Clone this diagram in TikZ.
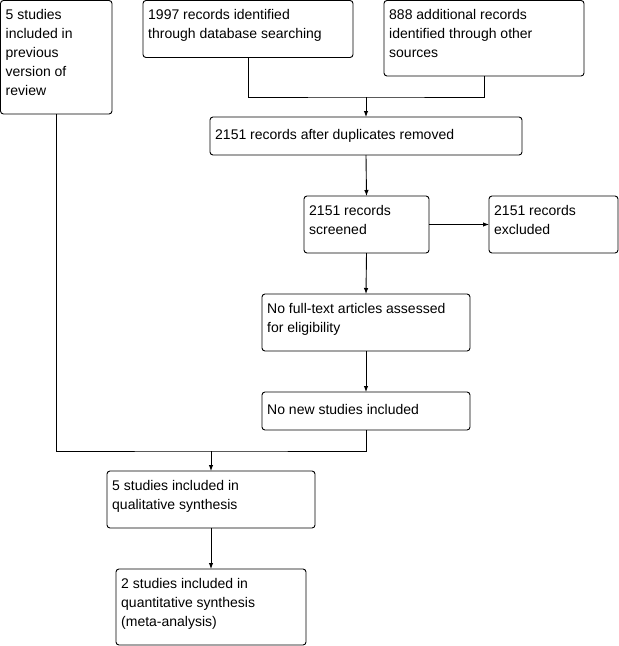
\documentclass[tikz,border=0pt]{standalone}
\usepackage{fontspec}
\setmainfont{Liberation Sans}
\usetikzlibrary{arrows.meta,calc}
\begin{document}
\begin{tikzpicture}[x=1pt,y=-1pt,
  box/.style={draw,line width=0.9pt,rounded corners=3pt,anchor=north west,inner sep=0pt,outer sep=0pt},
  txt/.style={anchor=north west,inner sep=0pt,align=left,font=\fontsize{14}{19}\selectfont,execute at begin node=\strut},
  conn/.style={line width=0.9pt},
  arr/.style={line width=0.9pt,-{Latex[length=6pt,width=4.5pt]}}]
\useasboundingbox (0,0) rectangle (619,646);
% boxes
\node[box,minimum width=111.5pt,minimum height=113.5pt] (b1) at (0.5,0.5) {};
\node[box,minimum width=210pt,minimum height=57pt] (b2) at (143,0.5) {};
\node[box,minimum width=200pt,minimum height=75.5pt] (b3) at (384,0.5) {};
\node[box,minimum width=312pt,minimum height=38pt] (b4) at (210,117) {};
\node[box,minimum width=125pt,minimum height=57pt] (b5) at (304,196) {};
\node[box,minimum width=129pt,minimum height=57pt] (b6) at (489,196) {};
\node[box,minimum width=208pt,minimum height=57pt] (b7) at (262,294) {};
\node[box,minimum width=208pt,minimum height=38pt] (b8) at (262,392) {};
\node[box,minimum width=208pt,minimum height=57pt] (b9) at (107,471) {};
\node[box,minimum width=190pt,minimum height=76pt] (b10) at (116,569) {};
% texts
\node[txt] (t1) at ($(b1.north west)+(5,9)$) {5 studies\\included in\\previous\\version of\\review};
\node[txt] (t2) at ($(b2.north west)+(5,9)$) {1997 records identified\\through database searching};
\node[txt] (t3) at ($(b3.north west)+(5,9)$) {888 additional records\\identified through other\\sources};
\node[txt] (t4) at ($(b4.north west)+(5,9)$) {2151 records after duplicates removed};
\node[txt] (t5) at ($(b5.north west)+(5,9)$) {2151 records\\screened};
\node[txt] (t6) at ($(b6.north west)+(5,9)$) {2151 records\\excluded};
\node[txt] (t7) at ($(b7.north west)+(5,9)$) {No full-text articles assessed\\for eligibility};
\node[txt] (t8) at ($(b8.north west)+(5,9)$) {No new studies included};
\node[txt] (t9) at ($(b9.north west)+(5,9)$) {5 studies included in\\qualitative synthesis};
\node[txt] (t10) at ($(b10.north west)+(5,9)$) {2 studies included in\\quantitative synthesis\\(meta-analysis)};
% junctions
\coordinate (j1) at ($(b4.north)+(0,-20)$);
\coordinate (j2) at ($(b9.north)+(0,-20)$);
% connectors
\draw[conn] (b2.south) |- (j1) -| (b3.south);
\draw[arr] (j1) -- (b4.north);
\draw[arr] (b4.south) -- (b5.north);
\draw[arr] (b5.east) -- (b6.west |- b5.east);
\draw[arr] (b5.south) -- (b7.north);
\draw[arr] (b7.south) -- (b8.north);
\draw[conn] (b8.south) |- (j2) -| (b1.south);
\draw[arr] (j2) -- (b9.north);
\draw[arr] (b9.south) -- (b10.north);
\end{tikzpicture}
\end{document}
